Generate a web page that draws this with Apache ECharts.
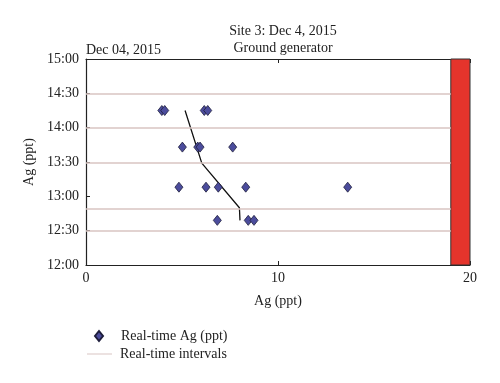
<!DOCTYPE html>
<html>
<head>
<meta charset="utf-8">
<script src="https://cdn.jsdelivr.net/npm/echarts@6/dist/echarts.min.js"></script>
<style>html,body{margin:0;padding:0;background:#fff;}#c{width:500px;height:383px;}</style>
</head>
<body>
<div id="c"></div>
<script>
// Data (time as minutes since midnight)
const yTickLabels = ['12:00','12:30','13:00','13:30','14:00','14:30','15:00'];
const agValues   = [3.95, 4.1, 6.16, 6.34, 5.02, 5.82, 5.94, 7.64, 4.84, 6.25, 6.89, 8.32, 13.63, 6.84, 8.45, 8.75];
const agTimes    = [855, 855, 855, 855, 823, 823, 823, 823, 788, 788, 788, 788, 788, 759, 759, 759];
const trendAg    = [5.16, 6.03, 7.99, 8.02];
const trendTimes = [855, 809, 770, 759];
const intervalTimes = [870, 840, 809, 769, 750];
const redBand = [19, 20];

const font = 'Liberation Serif';
const pink = '#d9c4c2';

const chart = echarts.init(document.getElementById('c'));
chart.setOption({
  animation: false,
  textStyle: { fontFamily: font, color: '#222' },
  title: [
    { text: 'Site 3: Dec 4, 2015\nGround generator', left: 278, top: 18, textAlign: 'center',
      textStyle: { fontFamily: font, fontSize: 14, fontWeight: 'normal', color: '#222', lineHeight: 17 } },
    { text: 'Dec 04, 2015', left: 81, top: 38,
      textStyle: { fontFamily: font, fontSize: 14, fontWeight: 'normal', color: '#222' } }
  ],
  legend: [
    { orient: 'vertical', left: 89, top: 324, itemWidth: 8, itemHeight: 10,
      textStyle: { fontFamily: font, fontSize: 14, color: '#222', padding: [0, 0, 0, 13] },
      data: [{ name: 'Real-time Ag (ppt)', icon: 'diamond' }] },
    { orient: 'vertical', left: 82, top: 342, itemWidth: 25, itemHeight: 1,
      textStyle: { fontFamily: font, fontSize: 14, color: '#222', padding: [0, 0, 0, 3] },
      data: [{ name: 'Real-time intervals', icon: 'rect' }] }
  ],
  grid: { left: 86, right: 30, top: 59, bottom: 118, show: false },
  xAxis: [
    { type: 'value', min: 0, max: 20, interval: 10, position: 'bottom',
      name: 'Ag (ppt)', nameLocation: 'middle', nameGap: 29,
      nameTextStyle: { fontFamily: font, fontSize: 14, color: '#222' },
      axisLine: { show: true, lineStyle: { color: '#222', width: 1.2 } },
      axisTick: { show: true, inside: true, length: 4, lineStyle: { color: '#222' } },
      axisLabel: { fontFamily: font, fontSize: 14, color: '#222', margin: 6 },
      splitLine: { show: false } },
    { type: 'value', min: 0, max: 20, interval: 10, position: 'top',
      axisLine: { show: true, lineStyle: { color: '#222', width: 1.2 } },
      axisTick: { show: true, inside: true, length: 4, lineStyle: { color: '#222' } },
      axisLabel: { show: false }, splitLine: { show: false } }
  ],
  yAxis: [
    { type: 'value', min: 720, max: 900, interval: 30,
      name: 'Ag (ppt)', nameLocation: 'middle', nameGap: 43, nameRotate: 90,
      nameTextStyle: { fontFamily: font, fontSize: 14, color: '#222' },
      axisLine: { show: true, lineStyle: { color: '#222', width: 1.2 } },
      axisTick: { show: true, inside: true, length: 4, lineStyle: { color: '#222' } },
      axisLabel: { fontFamily: font, fontSize: 14, color: '#222', margin: 7,
        formatter: v => yTickLabels[(v - 720) / 30] },
      splitLine: { show: false } }
  ],
  series: [
    { name: 'Real-time intervals', type: 'line', data: [], symbol: 'none',
      color: pink,
      lineStyle: { color: pink, width: 1.5 },
      itemStyle: { color: pink },
      markLine: { silent: true, symbol: 'none', label: { show: false },
        lineStyle: { color: pink, width: 1.5, type: 'solid' },
        emphasis: { disabled: true },
        data: intervalTimes.map(t => [
          { coord: [0, t], lineStyle: { color: pink, width: 1.5, type: 'solid' } },
          { coord: [redBand[0], t] }]) } },
    { name: 'band', type: 'line', data: [], symbol: 'none', z: 5,
      markArea: { silent: true,
        itemStyle: { color: '#e5342c', borderColor: '#333', borderWidth: 1, opacity: 1 },
        data: [[{ xAxis: redBand[0], yAxis: 720 }, { xAxis: redBand[1], yAxis: 900 }]] } },
    { name: 'trend', type: 'line', symbol: 'none', z: 3,
      lineStyle: { color: '#111', width: 1.3 },
      data: trendAg.map((a, i) => [a, trendTimes[i]]) },
    { name: 'Real-time Ag (ppt)', type: 'scatter', symbol: 'diamond', symbolSize: [8, 10], z: 4,
      itemStyle: { color: '#4b4c9c', borderColor: '#1e1e3c', borderWidth: 0.8, opacity: 1 },
      data: agValues.map((a, i) => [a, agTimes[i]]) }
  ]
});
</script>
</body>
</html>
